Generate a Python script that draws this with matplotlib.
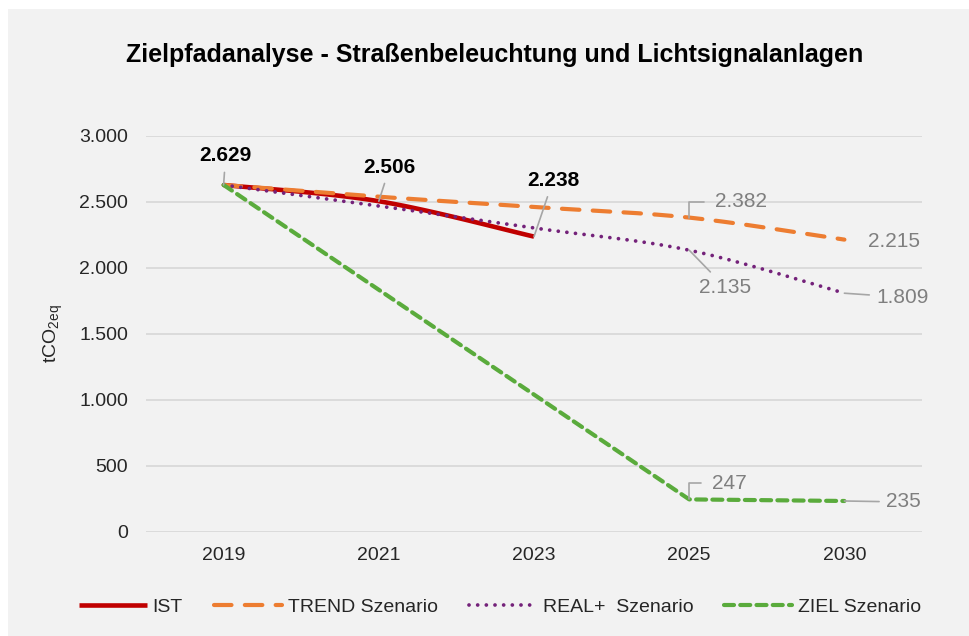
import numpy as np
import matplotlib
matplotlib.use("Agg")
import matplotlib.pyplot as plt
from matplotlib.patches import Rectangle

plt.rcParams['font.family'] = ['Liberation Sans', 'DejaVu Sans']
plt.rcParams['mathtext.default'] = 'regular'

# Jahre und Emissionen in tCO2eq
years = ['2019', '2021', '2023', '2025', '2030']
ist = [2629, 2506, 2238]
trend = [2629, 2540, 2462, 2382, 2215]
real_plus = [2629, 2470, 2303, 2135, 1809]
ziel = [2629, 1835, 1041, 247, 235]

BG = '#f2f2f2'
GRID = '#d9d9d9'
LABEL_GRAY = '#7f7f7f'
LEADER = '#a6a6a6'


def smooth(xs, ys, n=40):
    """Geglaettete Linie wie in Excel (kubische Bezier-Segmente)."""
    pts = np.column_stack([xs, ys]).astype(float)
    out = []
    for i in range(len(pts) - 1):
        p0 = pts[max(i - 1, 0)]
        p1 = pts[i]
        p2 = pts[i + 1]
        p3 = pts[min(i + 2, len(pts) - 1)]
        c1 = p1 + (p2 - p0) / 6
        c2 = p2 - (p3 - p1) / 6
        t = np.linspace(0, 1, n)[:, None]
        seg = (1 - t) ** 3 * p1 + 3 * (1 - t) ** 2 * t * c1 + 3 * (1 - t) * t ** 2 * c2 + t ** 3 * p2
        out.append(seg if i == 0 else seg[1:])
    s = np.vstack(out)
    return s[:, 0], s[:, 1]


fig = plt.figure(figsize=(9.7, 6.36), dpi=100, facecolor='white')
fig.patches.append(Rectangle((8 / 970, 0), 1, 1 - 9 / 636, transform=fig.transFigure,
                             facecolor=BG, edgecolor='none', zorder=-10))

ax = fig.add_axes([146 / 970, 1 - 532 / 636, 776 / 970, 396 / 636])
ax.set_facecolor('none')

x = np.arange(len(years))

xs, ys = smooth(x[:len(ist)], ist)
ax.plot(xs, ys, color='#c00000', lw=3.3, solid_capstyle='butt', label='IST', clip_on=False)
xs, ys = smooth(x, trend)
ax.plot(xs, ys, color='#ed7d31', lw=3.0, dashes=(4.2, 3.2), dash_capstyle='round',
        label='TREND Szenario', clip_on=False)
xs, ys = smooth(x, real_plus)
ax.plot(xs, ys, color='#74227a', lw=2.7, dashes=(0.01, 2.3), dash_capstyle='round',
        label='REAL+  Szenario', clip_on=False)
ax.plot(x, ziel, color='#5aab3c', lw=3.0, dashes=(2.4, 1.5), dash_capstyle='round',
        label='ZIEL Szenario', clip_on=False)

ax.set_xlim(-0.5, len(years) - 0.5)
ax.set_ylim(0, 3000)
ax.set_yticks(np.arange(0, 3001, 500))
ax.set_yticklabels([f'{v:,}'.replace(',', '.') for v in range(0, 3001, 500)])
ax.set_xticks(x)
ax.set_xticklabels(years)
ax.grid(axis='y', color=GRID, lw=1.3)
ax.set_axisbelow(True)
for sp in ax.spines.values():
    sp.set_visible(False)
ax.tick_params(length=0, labelsize=14, labelcolor='#262626')
ax.tick_params(axis='y', pad=13)
ax.tick_params(axis='x', pad=11)
ax.set_ylabel('tCO$_{2eq}$', fontsize=14, color='#262626', labelpad=10)


def fmt(v):
    return f'{v:,}'.replace(',', '.')


def label(i, v, dx, dy, bold=False, leader=True, elbow=False):
    arrow = None
    if leader:
        arrow = dict(arrowstyle='-', color=LEADER, lw=1.2, shrinkA=3, shrinkB=0)
        if elbow:
            arrow.update(connectionstyle='angle,angleA=0,angleB=90,rad=0', relpos=(0, 0.5),
                         shrinkA=6)
    ax.annotate(fmt(v), xy=(i, v), xytext=(dx, dy), textcoords='offset pixels',
                ha='center', va='center', fontsize=15,
                fontweight='bold' if bold else 'normal',
                color='black' if bold else LABEL_GRAY,
                arrowprops=arrow, annotation_clip=False)


# IST-Werte
label(0, ist[0], 2, 29, bold=True)
label(1, ist[1], 11, 34, bold=True)
label(2, ist[2], 19, 56, bold=True)
# Szenario-Endwerte
label(3, trend[3], 52, 16, elbow=True)
label(4, trend[4], 50, -2, leader=False)
label(3, real_plus[3], 36, -37)
label(4, real_plus[4], 58, -4)
label(3, ziel[3], 40, 16, elbow=True)
label(4, ziel[4], 59, -1)

fig.text(495 / 970, 1 - 55 / 636, 'Zielpfadanalyse - Straßenbeleuchtung und Lichtsignalanlagen',
         ha='center', va='center', fontsize=18, fontweight='bold', color='black')

fig.legend(loc='center', bbox_to_anchor=(500 / 970, 1 - 607 / 636), ncol=4, frameon=False,
           fontsize=14, handlelength=3.5, handletextpad=0.3, columnspacing=1.6,
           labelcolor='#262626')

fig.savefig('out.png', dpi=100, facecolor=fig.get_facecolor())
